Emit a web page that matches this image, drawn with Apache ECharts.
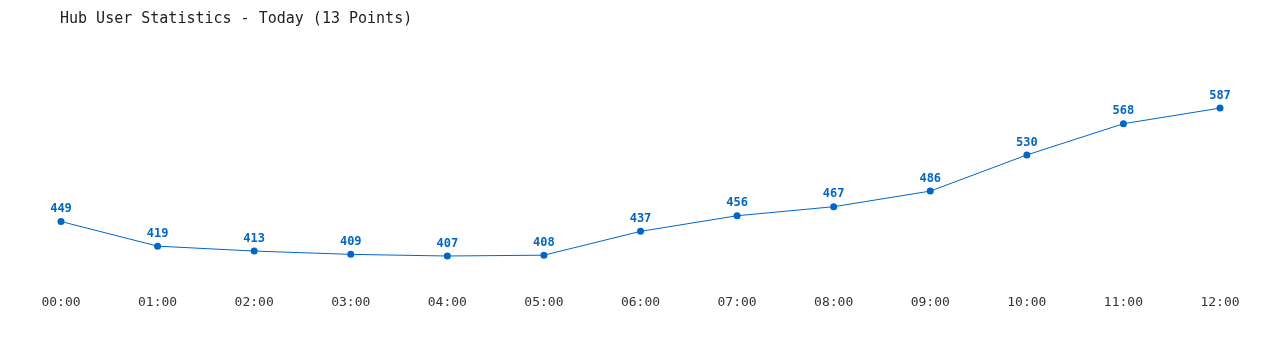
<!DOCTYPE html>
<html><head><meta charset="utf-8">
<script src="https://cdn.jsdelivr.net/npm/echarts@6/dist/echarts.min.js"></script>
<style>html,body{margin:0;padding:0;background:#fff}#c{width:1280px;height:350px}</style>
</head><body><div id="c"></div>
<script>
const categories = ["00:00","01:00","02:00","03:00","04:00","05:00","06:00","07:00","08:00","09:00","10:00","11:00","12:00"];
const users = [449,419,413,409,407,408,437,456,467,486,530,568,587];
const titleText = "Hub User Statistics - Today (13 Points)";
const chart = echarts.init(document.getElementById('c'));
const font = '"DejaVu Sans Mono","Liberation Mono",monospace';
chart.setOption({
  animation:false,
  title:{text:titleText,left:55,top:7,textStyle:{fontFamily:font,fontSize:15,fontWeight:'normal',color:'#222'}},
  grid:{left:61,right:60,top:81,bottom:63.6},
  xAxis:{type:'category',data:categories,boundaryGap:false,
    axisLine:{show:false},axisTick:{show:false},splitLine:{show:false},
    axisLabel:{fontFamily:font,fontSize:13,color:'#333',margin:10}},
  yAxis:{type:'value',min:370,max:620,show:false,splitLine:{show:false}},
  series:[{type:'line',data:users,symbol:'circle',symbolSize:7,
    lineStyle:{color:'#0066cc',width:1},itemStyle:{color:'#0066cc'},
    label:{show:true,position:'top',distance:3,fontFamily:font,fontSize:12,fontWeight:'bold',color:'#0066cc'}}]
});
</script></body></html>
